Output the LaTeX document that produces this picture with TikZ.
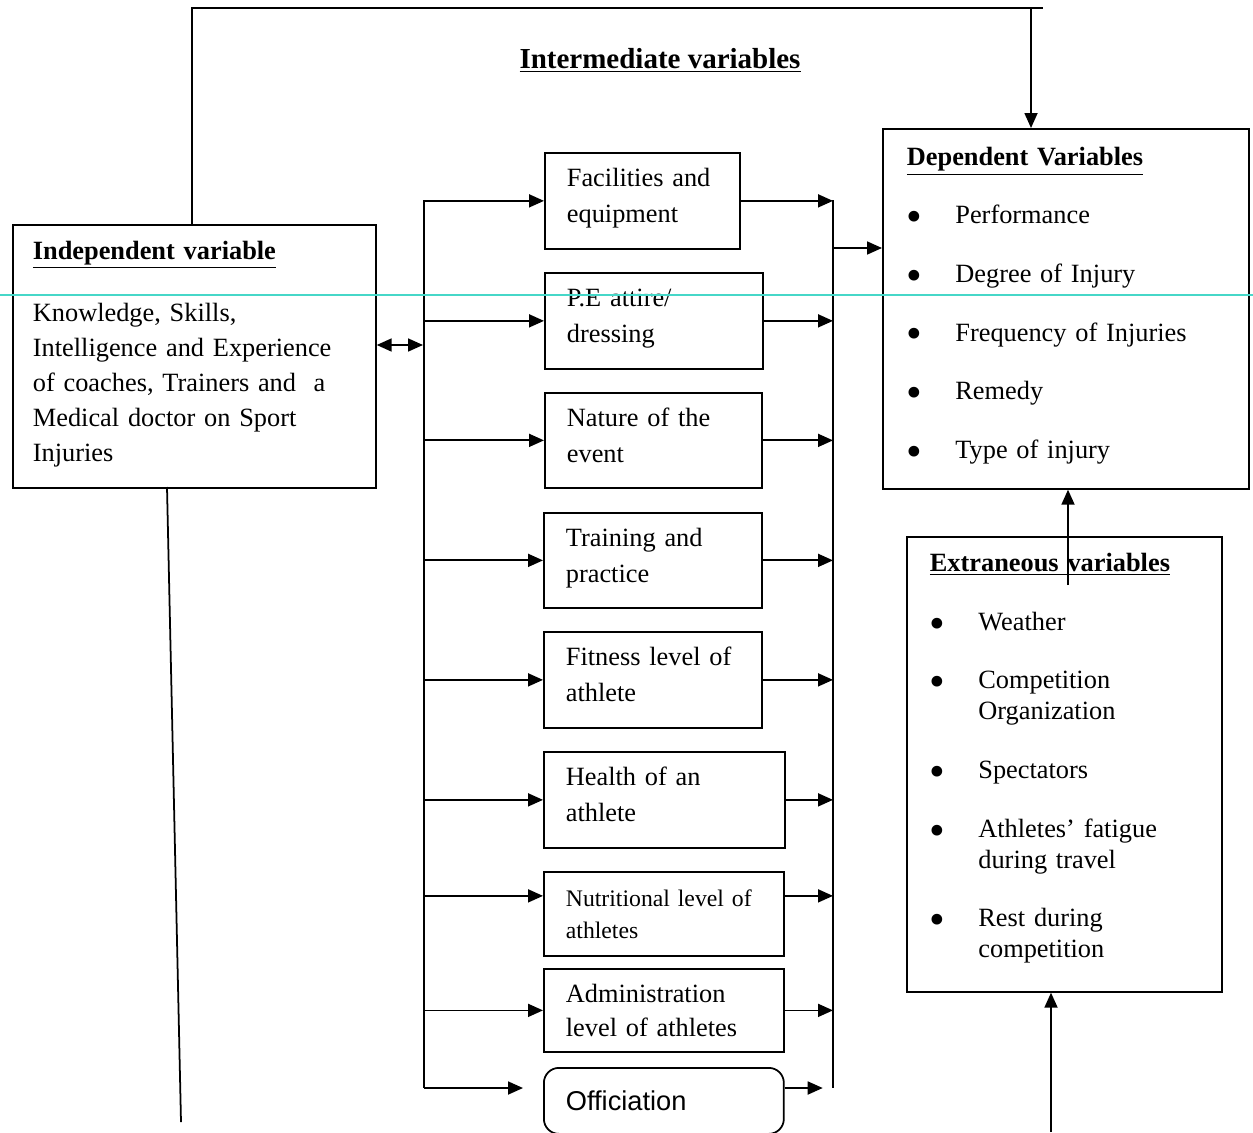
\documentclass[tikz,border=0pt]{standalone}
\usepackage{fontspec}
\setmainfont{Liberation Serif}
\newfontfamily\offfont{Liberation Sans}
\usepackage{graphicx}
\usepackage{xcolor}
\usepackage{tikz}
\usetikzlibrary{arrows.meta,positioning,calc}
\definecolor{scanline}{RGB}{70,215,200}
\newcommand{\dotmark}{\makebox[0.97cm][l]{\raisebox{-0.3em}{\scalebox{1.7}{\textbullet}}}}

\begin{document}
\begin{tikzpicture}[
    x=0.02cm, y=-0.02cm,
    line width=1pt,
    every node/.style={font=\fontsize{15}{20.4}\selectfont},
    % plain boxes, text set left
    box/.style={draw, anchor=north west, align=left, inner ysep=0pt},
    % intermediate variable boxes
    ibox/.style={box, inner xsep=0.44cm, text width=#1},
    % push the two lines a little up
    lift/.style={execute at end node={\rule[-6pt]{0pt}{0pt}}},
    arr/.style={-{Triangle[length=0.3cm,width=0.26cm]}},
    dbl/.style={{Triangle[length=0.3cm,width=0.26cm]}-{Triangle[length=0.3cm,width=0.26cm]}},
  ]
  \useasboundingbox (0,0) rectangle (1253,1132);

  \node[font=\fontsize{16.5}{20}\selectfont\bfseries] (title) at (660,60)
    {\underline{Intermediate variables}};

  \node[box, minimum height=5.26cm, inner xsep=0.4cm, text width=6.46cm,
        font=\fontsize{15}{19.9}\selectfont] (ind) at (12,224)
    {{\bfseries\underline{Independent variable}}\\[15.3pt]
     Knowledge, Skills,\\ Intelligence and Experience\\
     of coaches, Trainers and~ a\\ Medical doctor on Sport\\
     Injuries\rule[-5.6pt]{0pt}{5.6pt}};

  \node[box, minimum height=7.2cm, inner xsep=0.48cm, text width=6.36cm] (dep) at (882,128)
    {{\bfseries\underline{Dependent Variables}}\\[12.5pt]
     \dotmark Performance\\[13pt]
     \dotmark Degree of Injury\\[13pt]
     \dotmark Frequency of Injuries\\[13pt]
     \dotmark Remedy\\[13pt]
     \dotmark Type of injury\rule[-6.7pt]{0pt}{6.7pt}};

  \node[box, minimum height=9.1cm, inner xsep=0.46cm, text width=5.38cm] (ext) at (906,536)
    {{\bfseries\underline{Extraneous variables}}\\[13pt]
     \dotmark Weather\\[13pt]
     \dotmark Competition\\[-2.8pt]
     \hspace*{0.97cm}Organization\\[13pt]
     \dotmark Spectators\\[13pt]
     \dotmark Athletes’ fatigue\\[-2.8pt]
     \hspace*{0.97cm}during travel\\[13pt]
     \dotmark Rest during\\[-2.8pt]
     \hspace*{0.97cm}competition\rule[-10pt]{0pt}{10pt}};

  % the column of intermediate variables
  \node[ibox=3.02cm, lift, minimum height=1.92cm] (fac) at (544,152) {Facilities and\\ equipment};
  \node[ibox=3.48cm, lift, minimum height=1.92cm] (pe) at (544,272) {P.E attire/\\ dressing};
  \node[ibox=3.46cm, lift, minimum height=1.90cm] (nat) at (544,392) {Nature of the\\ event};
  \node[ibox=3.48cm, lift, minimum height=1.90cm] (trn) at (543,512) {Training and\\ practice};
  \node[ibox=3.48cm, lift, minimum height=1.92cm] (fit) at (543,631) {Fitness level of\\ athlete};
  \node[ibox=3.94cm, lift, minimum height=1.92cm] (hlt) at (543,751) {Health of an\\ athlete};
  \node[ibox=3.92cm, minimum height=1.68cm, font=\fontsize{13.5}{18.1}\selectfont] (nut) at (543,871)
    {Nutritional level of\\ athletes};
  \node[ibox=3.92cm, minimum height=1.66cm, font=\fontsize{15}{19.3}\selectfont] (adm) at (543,968)
    {Administration\\ level of athletes};
  \node[ibox=3.92cm, minimum height=1.32cm, rounded corners=0.3cm,
        font=\offfont\fontsize{15.5}{18}\selectfont] (off) at (543,1067) {Officiation};

  % trunks and joints
  \coordinate (lt) at (424,200);
  \coordinate (lb) at (424,1088);
  \coordinate (rt) at (833,200);
  \coordinate (rb) at (833,1088);
  \coordinate (dj) at (423,345);
  \coordinate (rj) at (833,248);
  \coordinate (tl) at (192,8);
  \coordinate (tr) at (1043,8);
  \coordinate (ta) at (1031,8);
  \coordinate (xa) at (1068,585);
  \coordinate (xb) at (1051,1132);
  \coordinate (it) at (167,487);
  \coordinate (ib) at (181,1122);
  \coordinate (nw) at ([yshift=0.36cm]nut.west);
  \coordinate (ne) at ([yshift=0.36cm]nut.east);

  \draw (lt) -- (lb);
  \draw (rt) -- (rb);
  \foreach \b in {fac,pe,nat,trn,fit,hlt,adm} {
    \draw[arr] (lt |- \b.west) -- (\b.west);
    \draw[arr] (\b.east) -- (rt |- \b.east);
  }
  \draw[arr] (lt |- nw) -- (nw);
  \draw[arr] (ne) -- (rt |- ne);
  \draw[arr] (lb) -- ++(99,0);
  \draw[arr] (off.east |- lb) -- ++(38,0);

  \draw[dbl] (ind.east |- dj) -- (dj);
  \draw[arr] (rj) -- (dep.west |- rj);

  % loop over the top
  \draw (tl |- ind.north) -- (tl) -- (tr);
  \draw[arr] (ta) -- (ta |- dep.north);

  \draw[arr] (xa) -- (xa |- dep.south);
  \draw[arr] (xb) -- (xb |- ext.south);
  \draw (it) -- (ib);

  \draw[scanline, line width=0.6pt] (0,295) -- (1253,295);
\end{tikzpicture}
\end{document}
